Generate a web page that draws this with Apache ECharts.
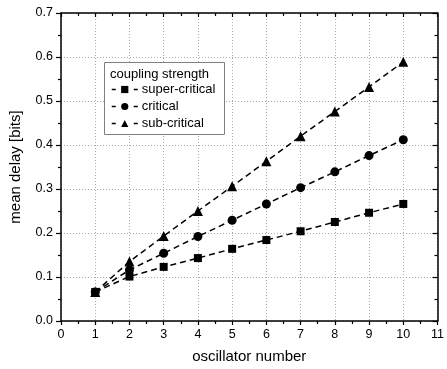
<!DOCTYPE html>
<html>
<head>
<meta charset="utf-8">
<script src="https://cdn.jsdelivr.net/npm/echarts@6/dist/echarts.min.js"></script>
<style>html,body{margin:0;padding:0;background:#fff}#c{width:447px;height:369px}</style>
</head>
<body>
<div id="c"></div>
<script>
const oscillators = [1, 2, 3, 4, 5, 6, 7, 8, 9, 10];
const superCritical = [0.066, 0.101, 0.123, 0.143, 0.164, 0.184, 0.204, 0.225, 0.246, 0.266];
const critical = [0.066, 0.116, 0.154, 0.192, 0.229, 0.266, 0.303, 0.339, 0.376, 0.412];
const subCritical = [0.066, 0.135, 0.193, 0.250, 0.306, 0.363, 0.420, 0.476, 0.532, 0.589];
const seriesNames = ['super-critical', 'critical', 'sub-critical'];
const legendTitle = 'coupling strength';
const xTitle = 'oscillator number';
const yTitle = 'mean delay [bits]';

const FONT = 'Liberation Sans, Arial, sans-serif';
const pairs = arr => oscillators.map((x, i) => [x, arr[i]]);

const baseAxis = {
  type: 'value',
  axisLine: { show: true, onZero: false, lineStyle: { color: '#000', width: 1.5 } },
  splitLine: { show: false },
  minorSplitLine: { show: false }
};

const chart = echarts.init(document.getElementById('c'), null, { renderer: 'canvas' });
chart.setOption({
  animation: false,
  backgroundColor: '#fff',
  grid: { left: 55, right: 7, top: 13, bottom: 45, containLabel: false },
  xAxis: [
    Object.assign({}, baseAxis, {
      position: 'bottom', min: 0, max: 11, interval: 1,
      name: xTitle, nameLocation: 'middle', nameGap: 28,
      nameTextStyle: { fontFamily: FONT, fontSize: 15, color: '#000' },
      axisTick: { show: true, inside: false, length: 4, lineStyle: { color: '#000', width: 1.2 } },
      minorTick: { show: true, splitNumber: 2, length: 3, lineStyle: { color: '#000', width: 1.2 } },
      axisLabel: { fontFamily: FONT, fontSize: 12.5, color: '#000', margin: 7 },
      splitLine: { show: true, lineStyle: { color: '#aaa', type: [1, 2], width: 1 } }
    }),
    Object.assign({}, baseAxis, {
      position: 'top', min: 0, max: 11, interval: 1,
      axisTick: { show: true, inside: true, length: 4, lineStyle: { color: '#000', width: 1.2 } },
      minorTick: { show: true, splitNumber: 2, length: 3, lineStyle: { color: '#000', width: 1.2 } },
      axisLabel: { show: false }
    })
  ],
  yAxis: [
    Object.assign({}, baseAxis, {
      position: 'left', min: 0, max: 0.7, interval: 0.1,
      name: yTitle, nameLocation: 'middle', nameGap: 38, nameRotate: 90,
      nameTextStyle: { fontFamily: FONT, fontSize: 15, color: '#000' },
      axisTick: { show: true, inside: false, length: 5, lineStyle: { color: '#000', width: 1.2 } },
      minorTick: { show: true, splitNumber: 2, length: 3, lineStyle: { color: '#000', width: 1.2 } },
      axisLabel: { fontFamily: FONT, fontSize: 12.5, color: '#000', margin: 8, formatter: v => v.toFixed(1) },
      splitLine: { show: true, lineStyle: { color: '#aaa', type: [1, 2], width: 1 } }
    }),
    Object.assign({}, baseAxis, {
      position: 'right', min: 0, max: 0.7, interval: 0.1,
      axisTick: { show: true, inside: true, length: 5, lineStyle: { color: '#000', width: 1.2 } },
      minorTick: { show: true, splitNumber: 2, length: 3, lineStyle: { color: '#000', width: 1.2 } },
      axisLabel: { show: false }
    })
  ],
  graphic: [
    { type: 'rect', z: 5, shape: { x: 104.5, y: 62.5, width: 120, height: 72 },
      style: { fill: '#fff', stroke: '#808080', lineWidth: 1 } },
    { type: 'text', z: 6, x: 110, y: 74,
      style: { text: legendTitle, font: '13px ' + FONT, fill: '#000', textVerticalAlign: 'middle', verticalAlign: 'middle' } }
  ],
  legend: {
    z: 7, orient: 'vertical', left: 111, top: 83, padding: 0,
    itemWidth: 26, itemHeight: 9, itemGap: 4,
    lineStyle: { type: [4, 18], width: 1.5, color: '#000' },
    textStyle: { fontFamily: FONT, fontSize: 13, color: '#000', padding: [0, 0, 0, -1] },
    data: seriesNames
  },
  series: [
    { name: seriesNames[0], type: 'line', data: pairs(superCritical), symbol: 'rect', symbolSize: 8,
      itemStyle: { color: '#000' }, lineStyle: { color: '#000', width: 1.5, type: [6, 4] } },
    { name: seriesNames[1], type: 'line', data: pairs(critical), symbol: 'circle', symbolSize: 9,
      itemStyle: { color: '#000' }, lineStyle: { color: '#000', width: 1.5, type: [6, 4] } },
    { name: seriesNames[2], type: 'line', data: pairs(subCritical), symbol: 'triangle', symbolSize: 10,
      itemStyle: { color: '#000' }, lineStyle: { color: '#000', width: 1.5, type: [6, 4] } }
  ]
});
</script>
</body>
</html>
